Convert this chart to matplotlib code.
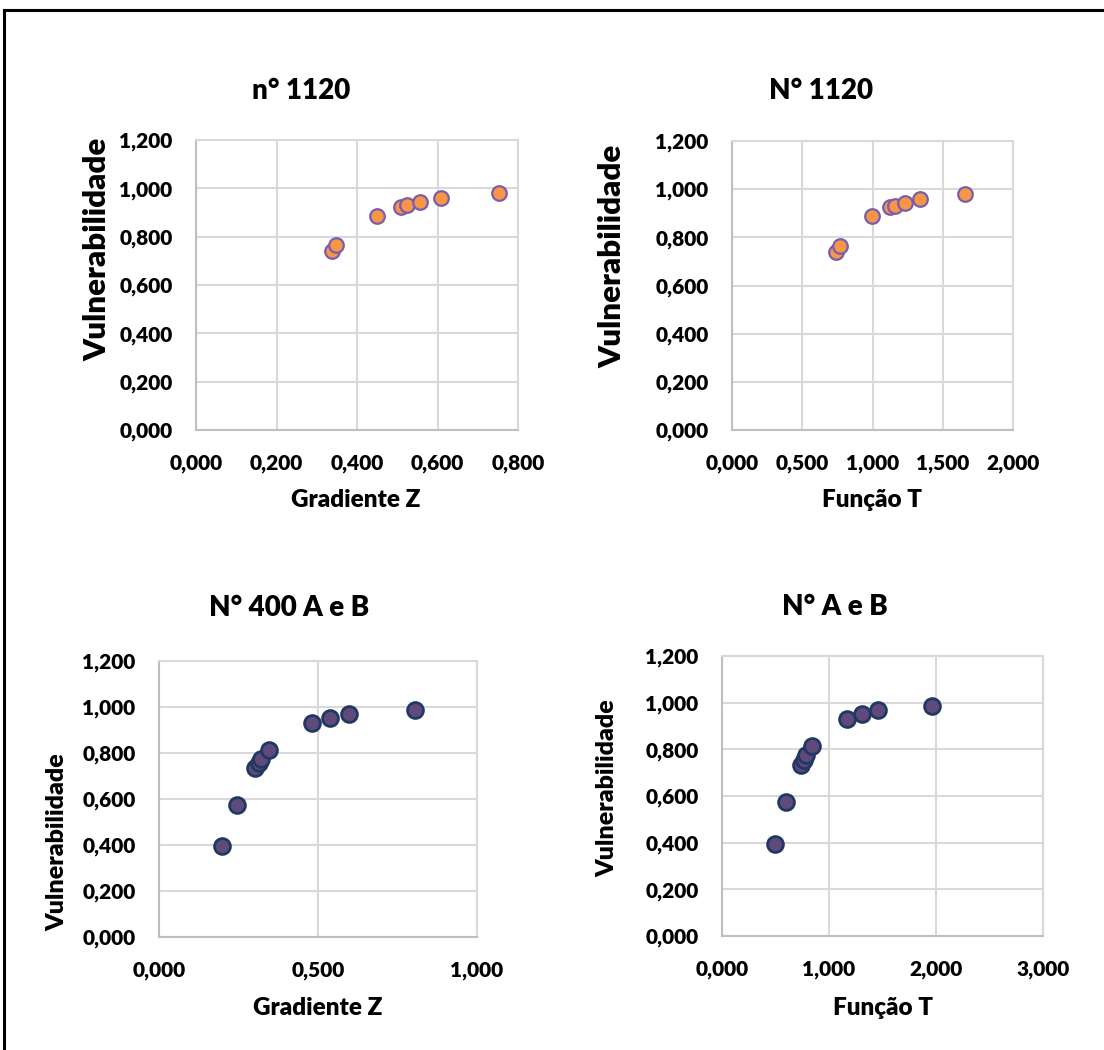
import matplotlib
matplotlib.use("Agg")
import matplotlib.pyplot as plt
from matplotlib.lines import Line2D
from matplotlib.ticker import FuncFormatter, MultipleLocator

plt.rcParams["font.family"] = ["Lato", "DejaVu Sans"]
plt.rcParams["font.weight"] = "heavy"

# ---- data -------------------------------------------------------------
grad_z_1120 = [0.337, 0.348, 0.450, 0.509, 0.523, 0.556, 0.608, 0.752]
func_t_1120 = [0.741, 0.770, 0.993, 1.125, 1.163, 1.232, 1.341, 1.658]
vuln_1120 = [0.741, 0.765, 0.887, 0.924, 0.931, 0.943, 0.958, 0.979]

grad_z_400 = [0.199, 0.246, 0.303, 0.313, 0.322, 0.345, 0.481, 0.539, 0.599, 0.805]
func_t_400 = [0.493, 0.599, 0.740, 0.762, 0.781, 0.843, 1.170, 1.308, 1.461, 1.963]
vuln_400 = [0.396, 0.575, 0.734, 0.756, 0.775, 0.814, 0.932, 0.953, 0.968, 0.987]

titles = ["n° 1120", "N° 1120", "N° 400 A e B", "N° A e B"]
x_labels = ["Gradiente Z", "Função T", "Gradiente Z", "Função T"]
y_label = "Vulnerabilidade"

W, H = 1104, 1050
fig = plt.figure(figsize=(W / 100, H / 100), dpi=100)
WEIGHT = "heavy"


def px_axes(left, top, right, bottom):
    return fig.add_axes([left / W, 1 - bottom / H, (right - left) / W, (bottom - top) / H])


def fx(x):
    return x / W


def fy(y):
    return 1 - y / H


comma_fmt = FuncFormatter(lambda v, _: f"{v:.3f}".replace(".", ","))

orange = dict(color="#F79646", edgecolor="#7A5DAE", linewidth=1.6, s=110, zorder=3)
purple = dict(color="#604A7B", edgecolor="#1F3864", linewidth=2.0, s=130, zorder=3)

panels = [
    # axes box (px), x data, y data, x limit, x step, style
    ((196, 140, 518, 430), grad_z_1120, vuln_1120, 0.8, 0.2, orange),
    ((732, 141, 1013, 430), func_t_1120, vuln_1120, 2.0, 0.5, orange),
    ((159, 661, 477, 937), grad_z_400, vuln_400, 1.0, 0.5, purple),
    ((722, 656, 1043, 936), func_t_400, vuln_400, 3.0, 1.0, purple),
]

axes = []
for box, xs, ys, xmax, xstep, style in panels:
    ax = px_axes(*box)
    ax.scatter(xs, ys, **style)
    ax.set_xlim(0, xmax)
    ax.set_ylim(0, 1.2)
    ax.xaxis.set_major_locator(MultipleLocator(xstep))
    ax.yaxis.set_major_locator(MultipleLocator(0.2))
    ax.xaxis.set_major_formatter(comma_fmt)
    ax.yaxis.set_major_formatter(comma_fmt)
    ax.grid(True, color="#D9D9D9", linewidth=1.5)
    ax.set_axisbelow(True)
    for name, sp in ax.spines.items():
        sp.set_color("#BFBFBF" if name in ("left", "bottom") else "#D9D9D9")
        sp.set_linewidth(1.5)
    ax.tick_params(length=0, labelsize=15, pad=17)
    for lab in ax.get_xticklabels() + ax.get_yticklabels():
        lab.set_fontweight(WEIGHT)
    axes.append(ax)

# titles
title_pos = [(301, 91), (821, 91), (289, 608), (835, 607)]
for (x, y), t in zip(title_pos, titles):
    fig.text(fx(x), fy(y), t, ha="center", va="center", fontsize=20, fontweight=WEIGHT)

# x axis labels
xlab_pos = [(356, 500), (872, 500), (318, 1008), (883, 1008)]
for (x, y), t in zip(xlab_pos, x_labels):
    fig.text(fx(x), fy(y), t, ha="center", va="center", fontsize=17.5, fontweight=WEIGHT)

# y axis labels
ylab_pos = [(97, 249, 22.5), (612, 256, 22.5), (57, 842, 18), (607, 788, 18)]
for x, y, size in ylab_pos:
    fig.text(fx(x), fy(y), y_label, ha="center", va="center", rotation=90,
             fontsize=size, fontweight=WEIGHT)

# outer frame (left and top edges)
fig.add_artist(Line2D([fx(4), fx(4)], [fy(10), fy(1050)], color="black", linewidth=2.2))
fig.add_artist(Line2D([fx(4), fx(1104)], [fy(10), fy(10)], color="black", linewidth=2.2))

fig.savefig("out.png", dpi=100, facecolor="white")
